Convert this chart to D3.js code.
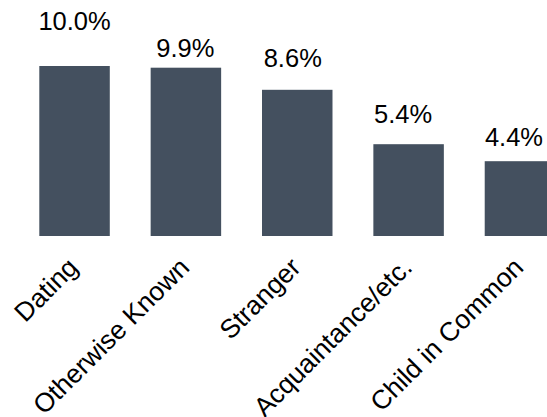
<!DOCTYPE html>
<html>
<head>
<meta charset="utf-8">
<script src="https://cdn.jsdelivr.net/npm/d3@7"></script>
<style>
  html, body { margin: 0; padding: 0; background: #fff; overflow: hidden; }
  svg { display: block; font-family: "Liberation Sans", Arial, sans-serif; }
</style>
</head>
<body>
<div id="chart"></div>
<script>
// Share of cases by relationship category (%)
const categories = ["Dating", "Otherwise Known", "Stranger", "Acquaintance/etc.", "Child in Common"];
const values = [10.0, 9.9, 8.6, 5.4, 4.4];
const valueLabels = ["10.0%", "9.9%", "8.6%", "5.4%", "4.4%"];

// Hand-placed value label nudges: [dx from bar centre, lift above bar top]
const labelNudge = [[0, 36], [-0.5, 10.4], [-4.5, 22.6], [-5.5, 20.8], [-6, 15.2]];

const W = 547, H = 417;
const barColor = "#44505F";

const svg = d3.select("#chart").append("svg")
  .attr("width", W).attr("height", H);

const x = d3.scaleBand()
  .domain(categories)
  .range([39.3, 555.2])
  .paddingInner(0.367)
  .paddingOuter(0);

const y = d3.scaleLinear()
  .domain([0, 10])
  .range([236, 66]);

const data = categories.map((c, i) => ({ c, v: values[i], label: valueLabels[i], nudge: labelNudge[i] }));

svg.append("g").selectAll("rect")
  .data(data)
  .join("rect")
  .attr("x", d => x(d.c))
  .attr("y", d => y(d.v))
  .attr("width", x.bandwidth())
  .attr("height", d => y(0) - y(d.v))
  .attr("fill", barColor);

svg.append("g").selectAll("text")
  .data(data)
  .join("text")
  .attr("x", d => x(d.c) + x.bandwidth() / 2 + d.nudge[0])
  .attr("y", d => y(d.v) - d.nudge[1])
  .attr("text-anchor", "middle")
  .attr("font-size", 25.5)
  .attr("fill", "#000")
  .text(d => d.label);

// Category axis: no line or ticks, labels tilted 45°
const xAxis = svg.append("g")
  .attr("transform", `translate(0,${y(0)})`)
  .call(d3.axisBottom(x).tickSize(0).tickPadding(0));
xAxis.select(".domain").remove();
xAxis.selectAll("text")
  .attr("font-family", "Liberation Sans, Arial, sans-serif")
  .attr("font-size", 26.5)
  .attr("fill", "#000")
  .attr("text-anchor", "end")
  .attr("dy", 0)
  .attr("transform", "translate(5,33) rotate(-45)");
</script>
</body>
</html>
